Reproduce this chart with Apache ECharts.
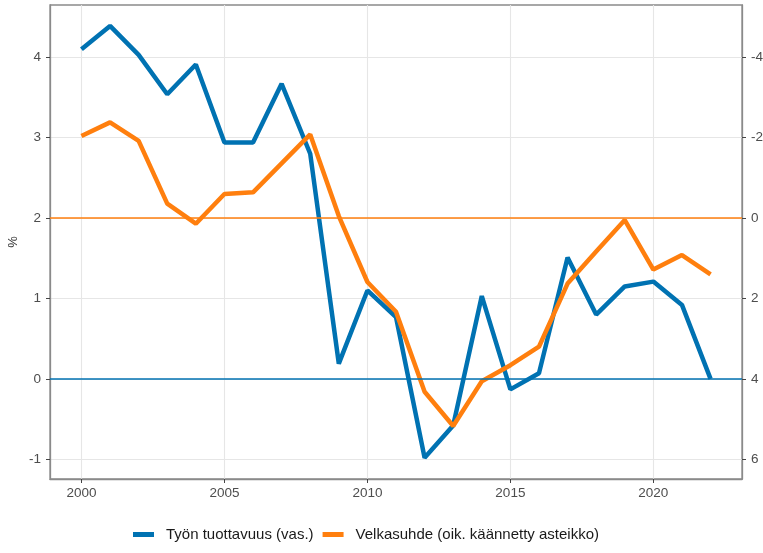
<!DOCTYPE html>
<html>
<head>
<meta charset="utf-8">
<script src="https://cdn.jsdelivr.net/npm/echarts@6/dist/echarts.min.js"></script>
<style>
  html, body { margin: 0; padding: 0; background: #fff; }
  #chart { width: 763px; height: 553px; }
</style>
</head>
<body>
<div id="chart"></div>
<script>
  // vuodet ja sarjat
  var years = [2000, 2001, 2002, 2003, 2004, 2005, 2006, 2007, 2008, 2009, 2010,
               2011, 2012, 2013, 2014, 2015, 2016, 2017, 2018, 2019, 2020, 2021, 2022];
  var tuottavuus = [4.10, 4.39, 4.03, 3.54, 3.91, 2.94, 2.94, 3.67, 2.80, 0.19, 1.10,
                    0.77, -0.98, -0.58, 1.03, -0.13, 0.07, 1.51, 0.80, 1.15, 1.21, 0.92, 0.00];
  var velkasuhde = [-2.04, -2.38, -1.92, -0.36, 0.14, -0.60, -0.64, -1.36, -2.08, -0.05, 1.59,
                    2.33, 4.32, 5.17, 4.06, 3.66, 3.20, 1.63, 0.83, 0.05, 1.28, 0.92, 1.40];
  var xTicks = [2000, 2005, 2010, 2015, 2020];
  var leftTicks = [-1, 0, 1, 2, 3, 4];
  var rightTicks = [-4, -2, 0, 2, 4, 6];

  var blue = '#0072B2';
  var orange = '#FF7F0E';
  var labelStyle = { color: '#4d4d4d', fontFamily: 'Liberation Sans', fontSize: 13.5 };
  var frame = { show: true, onZero: false, lineStyle: { color: '#8a8a8a', width: 1.3 } };
  var tick = { show: true, length: 4, lineStyle: { color: '#444', width: 1 } };

  var chart = echarts.init(document.getElementById('chart'));
  var option = {
    animation: false,
    grid: {
      left: 50, right: 21, top: 5, bottom: 74,
      outerBoundsMode: 'none',
      containLabel: false,
      show: true, borderColor: '#8a8a8a', borderWidth: 1.3
    },
    legend: {
      bottom: 6,
      left: 128,
      icon: 'rect',
      itemWidth: 21,
      itemHeight: 5,
      itemGap: 9,
      textStyle: { fontFamily: 'Liberation Sans', fontSize: 15, color: '#1a1a1a', padding: [0, 0, 0, 7] },
      data: ['Työn tuottavuus (vas.)', 'Velkasuhde (oik. käännetty asteikko)']
    },
    xAxis: {
      type: 'value',
      min: 1998.9,
      max: 2023.1,
      axisLine: frame,
      axisTick: Object.assign({ customValues: xTicks }, tick),
      axisLabel: Object.assign({ customValues: xTicks, margin: 7, formatter: function (v) { return String(v); } }, labelStyle),
      splitLine: { show: true, lineStyle: { color: '#e6e6e6', width: 1.1 } }
    },
    yAxis: [{
      type: 'value',
      min: -1.245,
      max: 4.65,
      name: '%',
      nameLocation: 'middle',
      nameGap: 30,
      nameMoveOverlap: false,
      nameRotate: 90,
      nameTextStyle: { color: '#333', fontFamily: 'Liberation Sans', fontSize: 13 },
      axisLine: frame,
      axisTick: Object.assign({ customValues: leftTicks }, tick),
      axisLabel: Object.assign({ customValues: leftTicks, margin: 9 }, labelStyle),
      splitLine: { show: true, lineStyle: { color: '#e6e6e6', width: 1.1 } }
    }, {
      type: 'value',
      inverse: true,
      min: -5.3,
      max: 6.49,
      position: 'right',
      axisLine: frame,
      axisTick: Object.assign({ customValues: rightTicks }, tick),
      axisLabel: Object.assign({ customValues: rightTicks, margin: 9 }, labelStyle),
      splitLine: { show: false }
    }],
    series: [{
      name: 'Työn tuottavuus (vas.)',
      type: 'line',
      yAxisIndex: 0,
      symbol: 'none',
      color: blue,
      lineStyle: { width: 4.5, color: blue },
      data: years.map(function (y, i) { return [y, tuottavuus[i]]; }),
      markLine: {
        silent: true, symbol: 'none', label: { show: false },
        lineStyle: { color: blue, width: 1.5, type: 'solid' },
        data: [{ yAxis: 0 }]
      },
      z: 3
    }, {
      name: 'Velkasuhde (oik. käännetty asteikko)',
      type: 'line',
      yAxisIndex: 1,
      symbol: 'none',
      color: orange,
      lineStyle: { width: 4.5, color: orange },
      data: years.map(function (y, i) { return [y, velkasuhde[i]]; }),
      markLine: {
        silent: true, symbol: 'none', label: { show: false },
        lineStyle: { color: orange, width: 1.5, type: 'solid' },
        data: [{ yAxis: 0 }]
      },
      z: 4
    }]
  };
  chart.setOption(option);
</script>
</body>
</html>
